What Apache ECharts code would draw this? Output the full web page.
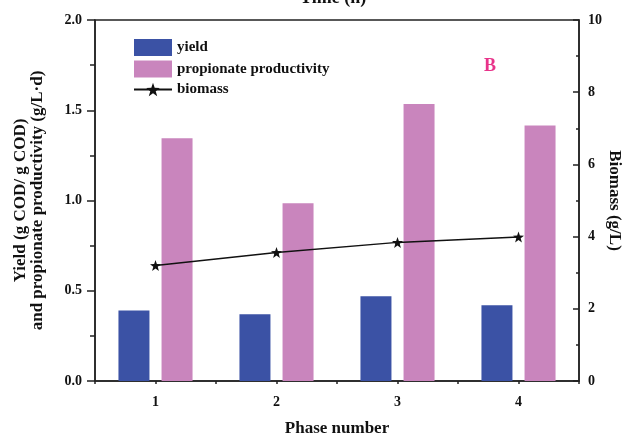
<!DOCTYPE html>
<html>
<head>
<meta charset="utf-8">
<script src="https://cdn.jsdelivr.net/npm/echarts@6/dist/echarts.min.js"></script>
<style>html,body{margin:0;padding:0;background:#fff}#c{width:624px;height:436px}</style>
</head>
<body>
<div id="c"></div>
<script>
const categories = ['1', '2', '3', '4'];
const yieldValues = [0.39, 0.37, 0.47, 0.42];
const propionateValues = [1.345, 0.985, 1.535, 1.415];
const biomassValues = [3.2, 3.56, 3.84, 3.99];
const leftTicks = [0, 0.5, 1.0, 1.5, 2.0];
const rightTicks = [0, 2, 4, 6, 8, 10];

const FONT = '"Liberation Serif", "Times New Roman", serif';
const STAR = 'path://M0,-10 L2.35,-3.24 L9.51,-3.09 L3.8,1.24 L5.88,8.09 L0,4 L-5.88,8.09 L-3.8,1.24 L-9.51,-3.09 L-2.35,-3.24 Z';
const lbl = {fontFamily: FONT, fontWeight: 'bold', fontSize: 14, color: '#111'};
const nameStyle = {fontFamily: FONT, fontWeight: 'bold', fontSize: 17, color: '#111'};
const lineStyle = {color: '#222', width: 1.5};

const chart = echarts.init(document.getElementById('c'));
chart.setOption({
  animation: false,
  backgroundColor: '#fff',
  grid: {left: 95, right: 45, top: 20, bottom: 55, outerBoundsMode: 'none', containLabel: false,
         show: true, borderColor: '#222', borderWidth: 1.5, backgroundColor: 'transparent'},
  graphic: [
    {type: 'text', left: 340 - 40, top: -11, style: {text: 'Time (h)', font: 'bold 18px ' + FONT, fill: '#111'}},
    {type: 'text', left: 484, top: 57, style: {text: 'B', font: 'bold 18px ' + FONT, fill: '#e8338a'}}
  ],
  legend: {
    orient: 'vertical', left: 133, top: 39, padding: 0, itemWidth: 38, itemHeight: 17, itemGap: 4.5,
    textStyle: {fontFamily: FONT, fontWeight: 'bold', fontSize: 15, color: '#111'},
    data: [
      {name: 'yield', icon: 'rect'},
      {name: 'propionate productivity', icon: 'rect'},
      {name: 'biomass'}
    ]
  },
  xAxis: [
    {
      type: 'category', data: categories, position: 'bottom',
      name: 'Phase number', nameLocation: 'middle', nameGap: 39, nameMoveOverlap: false, nameTextStyle: nameStyle,
      axisLine: {lineStyle: lineStyle},
      axisTick: {alignWithLabel: true, length: 6, lineStyle: lineStyle},
      axisLabel: Object.assign({margin: 14}, lbl)
    },
    {
      type: 'value', min: 0.5, max: 4.5, interval: 0.5, position: 'bottom',
      axisLine: {show: false}, axisLabel: {show: false}, splitLine: {show: false},
      axisTick: {show: true, length: 3, lineStyle: lineStyle}
    }
  ],
  yAxis: [
    {
      type: 'value', min: 0, max: 2, interval: 0.5, position: 'left',
      name: 'Yield (g COD/ g COD)\nand propionate productivity (g/L·d)',
      nameLocation: 'middle', nameGap: 49, nameMoveOverlap: false, nameTextStyle: Object.assign({lineHeight: 17}, nameStyle),
      axisLine: {show: true, lineStyle: lineStyle},
      axisTick: {show: true, length: 8, lineStyle: lineStyle},
      minorTick: {show: true, splitNumber: 2, length: 5, lineStyle: lineStyle},
      splitLine: {show: false},
      axisLabel: Object.assign({margin: 13, formatter: v => leftTicks.indexOf(v) >= 0 ? v.toFixed(1) : ''}, lbl)
    },
    {
      type: 'value', min: 0, max: 10, interval: 2, position: 'right',
      name: 'Biomass (g/L)', nameLocation: 'middle', nameGap: 27, nameRotate: -90, nameMoveOverlap: false, nameTextStyle: nameStyle,
      axisLine: {show: true, lineStyle: lineStyle},
      axisTick: {show: true, inside: true, length: 6, lineStyle: lineStyle},
      minorTick: {show: true, splitNumber: 2, length: 3, lineStyle: lineStyle},
      splitLine: {show: false},
      axisLabel: Object.assign({margin: 9, formatter: v => rightTicks.indexOf(v) >= 0 ? String(v) : ''}, lbl)
    }
  ],
  series: [
    {name: 'yield', type: 'bar', xAxisIndex: 0, yAxisIndex: 0, data: yieldValues, barWidth: 31, barGap: '39%',
     itemStyle: {color: '#3b52a5'}},
    {name: 'propionate productivity', type: 'bar', xAxisIndex: 0, yAxisIndex: 0, data: propionateValues, barWidth: 31, barGap: '39%',
     itemStyle: {color: '#c985bd'}},
    {name: 'biomass', type: 'line', xAxisIndex: 0, yAxisIndex: 1, data: biomassValues,
     symbol: STAR, symbolSize: 11, lineStyle: {color: '#111', width: 1.5},
     itemStyle: {color: '#111', borderWidth: 0}, z: 5}
  ]
});
</script>
</body>
</html>
